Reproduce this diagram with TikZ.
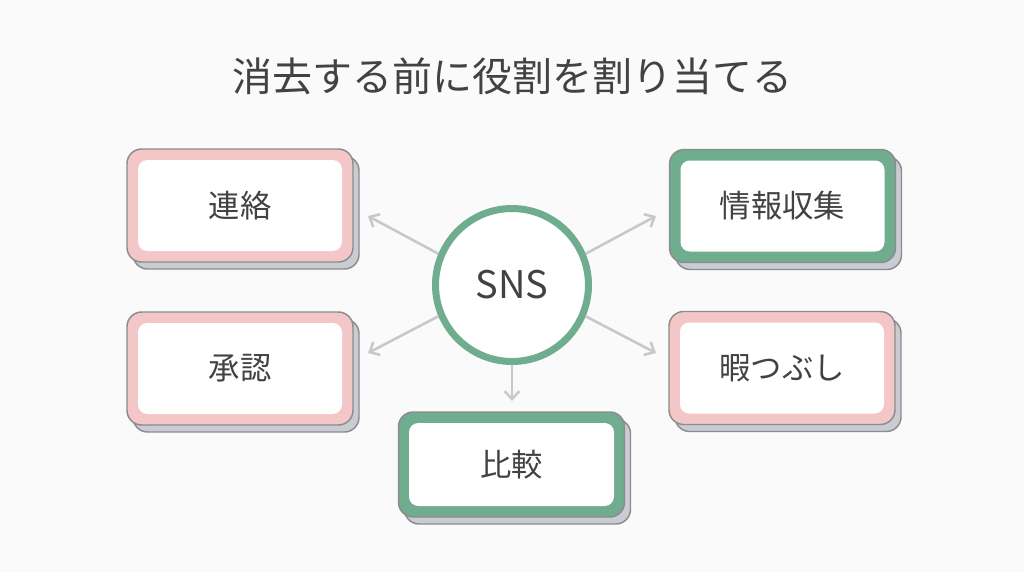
\documentclass[tikz,border=0pt]{standalone}
\usepackage{fontspec}
\setmainfont{Noto Sans CJK JP}
\usetikzlibrary{arrows.meta}
\definecolor{bg}{HTML}{FAFAFA}
\definecolor{txt}{HTML}{424242}
\definecolor{pinkband}{HTML}{F3C7C7}
\definecolor{greenband}{HTML}{70AC8E}
\definecolor{edgegray}{HTML}{8C8C8C}
\definecolor{shadowfill}{HTML}{C9CCD2}
\definecolor{arrowgray}{HTML}{C8C8C8}
\tikzset{
  outerbox/.style={draw=edgegray, line width=1.1pt, rounded corners=11pt, inner sep=0pt,
     minimum width=169.5pt, minimum height=84.75pt},
  shadowbox/.style={outerbox, fill=shadowfill},
  innerbox/.style={fill=white, rounded corners=7pt, inner sep=0pt,
     minimum width=153pt, minimum height=68.25pt, text=txt, font=\fontsize{23.5pt}{28pt}\selectfont},
  smallouter/.style={minimum height=78.75pt},
  smallinner/.style={minimum width=153.75pt, minimum height=62.25pt},
  conn/.style={draw=arrowgray, line width=1.9pt, -{Straight Barb[length=6pt,width=11pt,line width=1.9pt]}},
}
\newcommand{\rolebox}[6]{%
  % #1 name, #2 position, #3 band colour, #4 text, #5 outer size style, #6 inner size style
  \node[shadowbox, #5] at ([xshift=4.5pt,yshift=-5.25pt]#2) {};
  \node[outerbox, fill=#3, #5] (#1) at (#2) {};
  \node[innerbox, #6] (#1-in) at (#1.center) {#4};
}
\begin{document}
\begin{tikzpicture}[x=0.75pt,y=-0.75pt]
\useasboundingbox[fill=bg] (0,0) rectangle (1024,572);
\node[text=txt, font=\fontsize{30pt}{36pt}\selectfont] (title) at (512,76) {消去する前に役割を割り当てる};

\rolebox{renraku}{240,205.5}{pinkband}{連絡}{}{}
\rolebox{joho}{782.5,206}{greenband}{情報収集}{}{}
\rolebox{shonin}{240,368.5}{pinkband}{承認}{}{}
\rolebox{hima}{782,368}{pinkband}{暇つぶし}{}{}
\rolebox{hikaku}{511.5,464.5}{greenband}{比較}{smallouter}{smallinner}

\node[circle, draw=greenband, line width=5.25pt, fill=white, minimum size=114.75pt, inner sep=0pt,
      text=txt, font=\fontsize{28.5pt}{34pt}\selectfont] (sns) at (512,285) {SNS};

\coordinate (tipUL) at (368,216);
\coordinate (tipLL) at (368,353);
\coordinate (tipUR) at (656,216);
\coordinate (tipLR) at (656,353);
\coordinate (tipD) at (512,401);
\draw[conn] (sns.157) -- (tipUL);
\draw[conn] (sns.203) -- (tipLL);
\draw[conn] (sns.23) -- (tipUR);
\draw[conn] (sns.-23) -- (tipLR);
\draw[conn] (sns.south) -- (tipD);
\end{tikzpicture}
\end{document}
